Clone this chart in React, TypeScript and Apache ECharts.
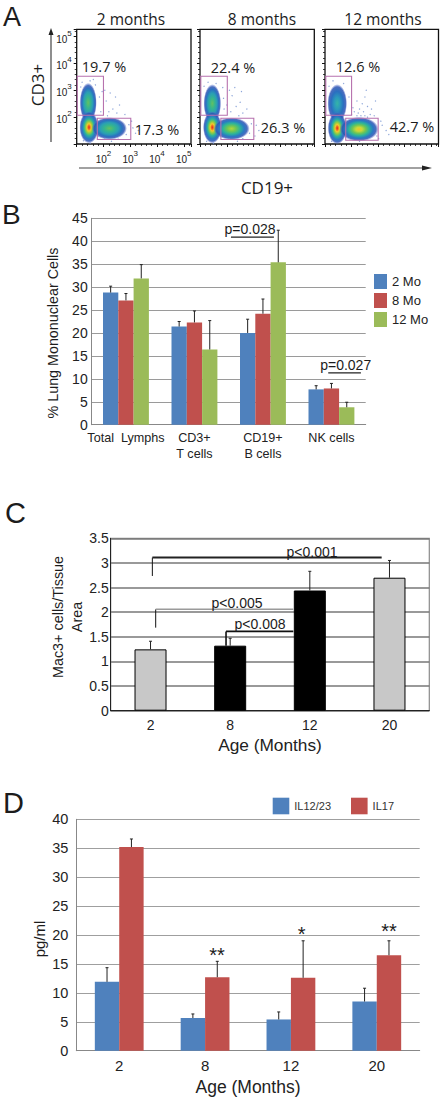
import React, { useEffect, useRef } from "react";
import * as echarts from "echarts";

const SANS = "Liberation Sans";
const SOFT = "Open Sans";
const BLUE = "#4F81BD", RED = "#C0504D", GREEN = "#9BBB59", INK = "#1c1c1c";

// Panel A (axis units are log10 of fluorescence). blob: cx, cy, rx, ry, peak
const flowTitles = ["2 months", "8 months", "12 months"];
const blobs = [
  [[1.43, 2.54, 0.32, 0.74, "green"], [1.46, 1.62, 0.36, 0.6, "red"], [2.22, 1.58, 0.66, 0.42, "green"]],
  [[1.46, 2.51, 0.33, 0.72, "green"], [1.46, 1.62, 0.35, 0.6, "red"], [2.18, 1.57, 0.68, 0.42, "lime"]],
  [[1.46, 2.51, 0.37, 0.72, "teal"], [1.46, 1.59, 0.36, 0.6, "red"], [2.28, 1.55, 0.74, 0.46, "yellow"]],
];
const gates = [
  [[1.02, 2.07, 2.0, 3.52], [1.77, 1.17, 3.02, 1.96]],
  [[1.03, 2.07, 2.02, 3.52], [1.78, 1.17, 3.01, 1.96]],
  [[1.03, 2.07, 2.0, 3.52], [1.78, 1.14, 3.0, 1.96]],
];
const speckle = [
  [[2.1, 2.6], [2.25, 2.9], [2.35, 2.3], [2.5, 2.15], [2.2, 2.2], [2.6, 2.45], [2.05, 3.0], [2.15, 2.05], [2.8, 2.1], [3.1, 1.6], [3.2, 1.4], [3.05, 1.85], [2.45, 2.75], [1.2, 3.3], [1.5, 3.35], [1.7, 3.2], [1.9, 2.2], [2.3, 1.1], [1.5, 1.03], [3.3, 1.5], [1.85, 2.75], [1.95, 2.95], [1.15, 3.12], [1.62, 3.4], [2.85, 1.35], [2.95, 1.72], [2.05, 1.22], [2.55, 1.18], [1.25, 1.12], [1.8, 1.3]],
  [[2.2, 2.8], [2.35, 2.4], [2.5, 2.55], [2.15, 2.2], [2.6, 2.15], [2.3, 3.1], [2.75, 2.3], [2.1, 3.0], [3.1, 1.7], [3.2, 1.5], [2.45, 2.05], [3.05, 1.3], [2.55, 2.95], [1.3, 3.3], [1.6, 3.25], [1.85, 3.1], [1.9, 2.3], [2.0, 2.45], [2.4, 1.1], [1.5, 1.03], [1.88, 2.7], [1.15, 3.15], [2.85, 1.4], [2.92, 1.75], [2.1, 1.2], [1.25, 1.1], [1.78, 1.28], [2.6, 1.2]],
  [[2.2, 2.6], [2.3, 2.3], [2.45, 2.2], [2.5, 2.75], [2.6, 2.4], [2.2, 2.05], [2.35, 2.05], [2.75, 2.3], [2.9, 2.6], [2.55, 3.0], [2.7, 2.1], [2.85, 2.05], [2.4, 2.5], [2.1, 2.2], [3.15, 1.7], [3.3, 1.5], [3.4, 1.35], [1.3, 3.35], [1.7, 3.25], [2.3, 1.1], [2.05, 2.35], [2.25, 2.15], [2.5, 2.05], [3.1, 1.85], [1.9, 2.75], [1.15, 3.15], [2.95, 1.3], [1.25, 1.1], [2.0, 2.1], [2.6, 2.0], [3.02, 1.2]],
];
const flowPercents = [["19.7 %", "17.3 %"], ["22.4 %", "26.3 %"], ["12.6 %", "42.7 %"]];

// Panel B
const lungCats = ["Total  Lymphs", "CD3+\nT cells", "CD19+\nB cells", "NK cells"];
const lungNames = ["2 Mo", "8 Mo", "12 Mo"];
const lung2 = [28.8, 21.4, 20.0, 7.7];
const lung8 = [27.1, 22.3, 24.2, 7.9];
const lung12 = [31.9, 16.4, 35.4, 3.8];
const lung2Up = [30.2, 22.5, 23.0, 8.5];
const lung8Up = [28.6, 24.8, 27.4, 9.0];
const lung12Up = [34.9, 22.7, 42.4, 4.9];
const lungBrackets = [
  { c0: 2, f0: -0.467, v0: 40.9, c1: 2, f1: 0.16, v1: 40.9, w: 1.3, color: "#222" },
  { c0: 3, f0: -0.047, v0: 11.3, c1: 3, f1: 0.43, v1: 11.3, w: 1.3, color: "#222" },
];

// Panel C
const macCats = ["2", "8", "12", "20"];
const macVals = [1.245, 1.32, 2.44, 2.7];
const macUp = [1.41, 1.47, 2.83, 3.05];
const macColors = ["#C8C8C8", "#000000", "#000000", "#C8C8C8"];
const macBrackets = [
  { c0: 0, f0: 0.023, v0: 2.735, c1: 0, f1: 0.023, v1: 3.108, w: 1, color: "#111" },
  { c0: 0, f0: 0.023, v0: 3.108, c1: 3, f1: -0.098, v1: 3.108, w: 2, color: "#222" },
  { c0: 0, f0: 0.065, v0: 1.686, c1: 0, f1: 0.065, v1: 2.058, w: 1, color: "#111" },
  { c0: 0, f0: 0.065, v0: 2.058, c1: 2, f1: -0.207, v1: 2.058, w: 1.5, color: "#9a9a9a" },
  { c0: 1, f0: -0.052, v0: 1.32, c1: 1, f1: -0.052, v1: 1.61, w: 1.6, color: "#111" },
  { c0: 1, f0: -0.052, v0: 1.61, c1: 2, f1: -0.207, v1: 1.61, w: 1.6, color: "#111" },
];

// Panel D
const ilCats = ["2", "8", "12", "20"];
const il1223 = [11.9, 5.65, 5.4, 8.5];
const il17 = [35.2, 12.7, 12.6, 16.5];
const il1223Up = [14.35, 6.35, 6.7, 10.8];
const il17Up = [36.6, 15.45, 19.0, 19.0];
const ilStars = ["", "**", "*", "**"];

const FADE: [number, string][] = [[0.86, "rgba(45,85,180,0.85)"], [0.94, "rgba(70,100,195,0.4)"], [1, "rgba(90,120,205,0)"]];
const stopsFor: Record<string, [number, string][]> = {
  red: [[0, "#e6281e"], [0.1, "#f0641e"], [0.22, "#f2c92c"], [0.36, "#8ccb45"], [0.52, "#2bb39c"], [0.72, "#2a78c4"], ...FADE],
  yellow: [[0, "#f2c42a"], [0.16, "#c9d83a"], [0.34, "#6fc654"], [0.52, "#2bb39c"], [0.72, "#2a78c4"], ...FADE],
  lime: [[0, "#b4d53c"], [0.24, "#6fc654"], [0.48, "#2bb39c"], [0.7, "#2a78c4"], ...FADE],
  green: [[0, "#63c062"], [0.28, "#35b58e"], [0.52, "#2a9fb4"], [0.72, "#2a72c0"], ...FADE],
  teal: [[0, "#35b4a6"], [0.32, "#2b98bc"], [0.62, "#2a6fc0"], ...FADE],
};

const gradient = (peak: string) =>
  new echarts.graphic.RadialGradient(0.5, 0.5, 0.5, stopsFor[peak].map(([offset, color]) => ({ offset, color })));

const blobSeries = (g: number, list: any[]) => ({
  type: "custom", xAxisIndex: g, yAxisIndex: g, z: 3, silent: true,
  data: list.map((b) => [b[0], b[1], b[2], b[3]]),
  encode: { x: 0, y: 1 },
  renderItem: (p: any, api: any) => {
    const c = api.coord([api.value(0), api.value(1)]);
    const s = api.size([api.value(2), api.value(3)]);
    return {
      type: "circle", x: c[0], y: c[1], scaleX: s[0] / 10, scaleY: s[1] / 10,
      shape: { cx: 0, cy: 0, r: 10 },
      style: { fill: gradient(list[p.dataIndex][4]) },
    };
  },
});

const gateSeries = (g: number, list: number[][]) => ({
  type: "custom", xAxisIndex: g, yAxisIndex: g, z: 5, silent: true,
  data: list,
  encode: { x: [0, 2], y: [1, 3] },
  renderItem: (_p: any, api: any) => {
    const a = api.coord([api.value(0), api.value(1)]);
    const b = api.coord([api.value(2), api.value(3)]);
    return {
      type: "rect",
      shape: { x: a[0], y: b[1], width: b[0] - a[0], height: a[1] - b[1] },
      style: { fill: "none", stroke: "#B772AE", lineWidth: 1.1 },
    };
  },
});

const errorSeries = (g: number, vals: number[][], ups: number[][], barW: number, color = "#222") => {
  const data: number[][] = [];
  vals.forEach((row, k) => row.forEach((v, i) => data.push([i, ups[k][i], k, v])));
  return {
    type: "custom", xAxisIndex: g, yAxisIndex: g, z: 6, silent: true,
    data, encode: { x: 0, y: 1 },
    renderItem: (_p: any, api: any) => {
      const top = api.coord([api.value(0), api.value(1)]);
      const bot = api.coord([api.value(0), api.value(3)]);
      const x = top[0] + (api.value(2) - (vals.length - 1) / 2) * barW;
      const style = { stroke: color, lineWidth: 1 };
      return {
        type: "group",
        children: [
          { type: "line", shape: { x1: x, y1: top[1], x2: x, y2: bot[1] }, style },
          { type: "line", shape: { x1: x - 1.5, y1: top[1], x2: x + 1.5, y2: top[1] }, style },
        ],
      };
    },
  };
};

const bracketSeries = (g: number, list: any[]) => ({
  type: "custom", xAxisIndex: g, yAxisIndex: g, z: 7, silent: true,
  data: list.map((b) => [b.c0, b.v0, b.c1, b.v1]),
  encode: { x: 0, y: 1 },
  renderItem: (p: any, api: any) => {
    const b = list[p.dataIndex];
    const band = api.size([1, 0])[0];
    const a = api.coord([b.c0, b.v0]);
    const e = api.coord([b.c1, b.v1]);
    return {
      type: "line",
      shape: { x1: a[0] + b.f0 * band, y1: a[1], x2: e[0] + b.f1 * band, y2: e[1] },
      style: { stroke: b.color, lineWidth: b.w },
    };
  },
});

const txt = (x: number, y: number, text: string, size: number, extra: any = {}) => ({
  type: "text", x, y, z: 20, rotation: extra.rotation || 0,
  style: {
    text, fill: extra.fill || INK, fontSize: size, fontFamily: extra.family || SANS,
    textAlign: extra.align || "center", textVerticalAlign: "middle",
  },
});

const flowAxis = (show: boolean) => ({
  type: "value", min: 1, max: 5.27, interval: 1,
  splitLine: { show: false },
  axisLine: { show: false },
  axisTick: { show: true, length: 3, lineStyle: { color: "#111", width: 1 } },
  minorTick: { show: true, splitNumber: 5, length: 2, lineStyle: { color: "#111", width: 0.8 } },
  minorSplitLine: { show: false },
  axisLabel: {
    show,
    showMaxLabel: false,
    margin: 5,
    formatter: (v: number) => (Number.isInteger(v) && v > 1 ? `{b|10}{s|${v}}` : ""),
    rich: {
      b: { fontFamily: SANS, fontSize: 10, color: "#222", padding: [5, 0, 0, 0] },
      s: { fontFamily: SANS, fontSize: 8, color: "#222", padding: [0, 0, 7, 0] },
    },
  },
});

const barAxisLabel = (size: number, margin: number) => ({
  fontFamily: SANS, fontSize: size, color: "#222", margin,
});

const option: any = {
  animation: false,
  backgroundColor: "#ffffff",
  textStyle: { fontFamily: SANS },
  grid: [
    { left: 76.7, top: 29.3, width: 114.3, height: 114.7, show: true, borderColor: "#111", borderWidth: 1.3, backgroundColor: "#fff" },
    { left: 200, top: 29.3, width: 114.3, height: 114.7, show: true, borderColor: "#111", borderWidth: 1.3, backgroundColor: "#fff" },
    { left: 325, top: 29.3, width: 113.5, height: 114.7, show: true, borderColor: "#111", borderWidth: 1.3, backgroundColor: "#fff" },
    { left: 91.7, top: 218.3, width: 274, height: 206.4 },
    { left: 110.7, top: 538.3, width: 318.6, height: 172.4, show: true, borderColor: "#8a8a8a", borderWidth: 1.2, backgroundColor: "#fff" },
    { left: 76.3, top: 819.3, width: 343.4, height: 231.4 },
  ],
  xAxis: [
    { gridIndex: 0, ...flowAxis(true) },
    { gridIndex: 1, ...flowAxis(false) },
    { gridIndex: 2, ...flowAxis(false) },
    {
      gridIndex: 3, type: "category", data: lungCats,
      axisLine: { lineStyle: { color: "#888" } }, axisTick: { lineStyle: { color: "#888" }, length: 3 },
      axisLabel: { ...barAxisLabel(12.6, 5), interval: 0, lineHeight: 16 },
    },
    {
      gridIndex: 4, type: "category", data: macCats,
      axisLine: { lineStyle: { color: "#222" } }, axisTick: { lineStyle: { color: "#222" }, length: 3 },
      axisLabel: { ...barAxisLabel(14, 7), interval: 0 },
      name: "Age (Months)", nameLocation: "middle", nameGap: 26,
      nameTextStyle: { fontFamily: SANS, fontSize: 17.3, color: "#222" },
    },
    {
      gridIndex: 5, type: "category", data: ilCats,
      axisLine: { lineStyle: { color: "#888" } }, axisTick: { lineStyle: { color: "#888" }, length: 3 },
      axisLabel: { ...barAxisLabel(15, 7), interval: 0 },
      name: "Age (Months)", nameLocation: "middle", nameGap: 27,
      nameTextStyle: { fontFamily: SANS, fontSize: 17.5, color: "#222" },
    },
  ],
  yAxis: [
    { gridIndex: 0, ...flowAxis(true) },
    { gridIndex: 1, ...flowAxis(false) },
    { gridIndex: 2, ...flowAxis(false) },
    {
      gridIndex: 3, type: "value", min: 0, max: 45, interval: 5,
      axisLine: { show: true, lineStyle: { color: "#888" } }, axisTick: { show: false },
      splitLine: { lineStyle: { color: "#9a9a9a", width: 1 } },
      axisLabel: barAxisLabel(14, 4),
    },
    {
      gridIndex: 4, type: "value", min: 0, max: 3.5, interval: 0.5,
      axisLine: { show: true, lineStyle: { color: "#222" } }, axisTick: { show: false },
      splitLine: { lineStyle: { color: "#777", width: 1.5 } },
      axisLabel: barAxisLabel(14, 2),
    },
    {
      gridIndex: 5, type: "value", min: 0, max: 40, interval: 5,
      axisLine: { show: true, lineStyle: { color: "#888" } }, axisTick: { show: false },
      splitLine: { lineStyle: { color: "#9f9f9f", width: 1 } },
      axisLabel: barAxisLabel(14.5, 8),
    },
  ],
  legend: [
    {
      data: lungNames, left: 374, top: 274, orient: "vertical", itemWidth: 13, itemHeight: 15, itemGap: 4,
      icon: "rect", padding: 0, selectedMode: false,
      textStyle: { fontFamily: SANS, fontSize: 13, color: "#222" },
    },
    {
      data: ["IL12/23", "IL17"], left: 272.7, top: 797.7, orient: "horizontal", itemWidth: 16.6, itemHeight: 16.6, itemGap: 20,
      icon: "rect", padding: 0, selectedMode: false,
      textStyle: { fontFamily: SANS, fontSize: 11, color: "#333" },
    },
  ],
  series: [
    ...blobs.flatMap((list, g) => [
      blobSeries(g, list),
      { type: "scatter", xAxisIndex: g, yAxisIndex: g, z: 4, silent: true, symbolSize: 1.3, itemStyle: { color: "#6f8fd0" }, data: speckle[g] },
      gateSeries(g, gates[g]),
    ]),
    ...[lung2, lung8, lung12].map((d, k) => ({
      type: "bar", name: lungNames[k], xAxisIndex: 3, yAxisIndex: 3, data: d, barWidth: 15.3, barGap: "0%",
      itemStyle: { color: [BLUE, RED, GREEN][k] }, z: 3,
    })),
    errorSeries(3, [lung2, lung8, lung12], [lung2Up, lung8Up, lung12Up], 15.3),
    bracketSeries(3, lungBrackets),
    {
      type: "bar", xAxisIndex: 4, yAxisIndex: 4, barWidth: 32, z: 3,
      data: macVals.map((value, i) => ({ value, itemStyle: { color: macColors[i], borderColor: "#000", borderWidth: 1 } })),
    },
    errorSeries(4, [macVals], [macUp], 32),
    bracketSeries(4, macBrackets),
    { type: "bar", name: "IL12/23", xAxisIndex: 5, yAxisIndex: 5, data: il1223, barWidth: 24.4, barGap: "0%", itemStyle: { color: BLUE }, z: 3 },
    { type: "bar", name: "IL17", xAxisIndex: 5, yAxisIndex: 5, data: il17, barWidth: 24.4, barGap: "0%", itemStyle: { color: RED }, z: 3 },
    errorSeries(5, [il1223, il17], [il1223Up, il17Up], 24.4),
  ],
  graphic: [
    txt(3, 17, "A", 27, { align: "left" }),
    txt(2, 214, "B", 28, { align: "left" }),
    txt(5, 513, "C", 29, { align: "left" }),
    txt(3, 803, "D", 29, { align: "left" }),
    txt(131, 19, flowTitles[0], 15.5, { family: SOFT }),
    txt(262, 19, flowTitles[1], 15.5, { family: SOFT }),
    txt(383, 19, flowTitles[2], 15.5, { family: SOFT }),
    txt(104, 66, flowPercents[0][0], 14.5, { family: SOFT }),
    txt(157, 129, flowPercents[0][1], 14.5, { family: SOFT }),
    txt(233, 67, flowPercents[1][0], 14.5, { family: SOFT }),
    txt(283, 127, flowPercents[1][1], 14.5, { family: SOFT }),
    txt(358, 66, flowPercents[2][0], 14.5, { family: SOFT }),
    txt(412, 126, flowPercents[2][1], 14.5, { family: SOFT }),
    txt(37, 85, "CD3+", 17, { family: SOFT, rotation: Math.PI / 2 }),
    txt(267, 187, "CD19+", 17, { family: SOFT }),
    { type: "line", z: 20, shape: { x1: 51, y1: 142, x2: 51, y2: 33 }, style: { stroke: "#444", lineWidth: 1.2 } },
    { type: "polygon", z: 20, shape: { points: [[51, 28], [48.5, 35], [53.5, 35]] }, style: { fill: "#222" } },
    { type: "line", z: 20, shape: { x1: 79, y1: 168, x2: 425, y2: 168 }, style: { stroke: "#444", lineWidth: 1.2 } },
    { type: "polygon", z: 20, shape: { points: [[432, 168], [422, 165.5], [422, 170.5]] }, style: { fill: "#222" } },
    txt(52.7, 333, "% Lung Mononuclear Cells", 14.3, { rotation: Math.PI / 2 }),
    txt(58, 617, "Mac3+ cells/Tissue", 14.4, { rotation: Math.PI / 2 }),
    txt(76.5, 617, "Area", 14.4, { rotation: Math.PI / 2 }),
    txt(39, 939, "pg/ml", 15, { rotation: Math.PI / 2 }),
    txt(250, 229, "p=0.028", 14),
    txt(345.7, 365, "p=0.027", 14),
    txt(312, 551.5, "p<0.001", 14),
    txt(237, 602.5, "p<0.005", 14),
    txt(260, 624, "p<0.008", 14),
    txt(217, 955, ilStars[1], 20),
    txt(301.7, 934, ilStars[2], 20),
    txt(389, 931, ilStars[3], 20),
  ],
};

export default function App() {
  const ref = useRef<HTMLDivElement>(null);
  useEffect(() => {
    const chart = echarts.init(ref.current!, null, { renderer: "svg" });
    chart.setOption(option);
    return () => chart.dispose();
  }, []);
  return <div ref={ref} style={{ position: "absolute", left: 0, top: 0, width: 444, height: 1098 }} />;
}
